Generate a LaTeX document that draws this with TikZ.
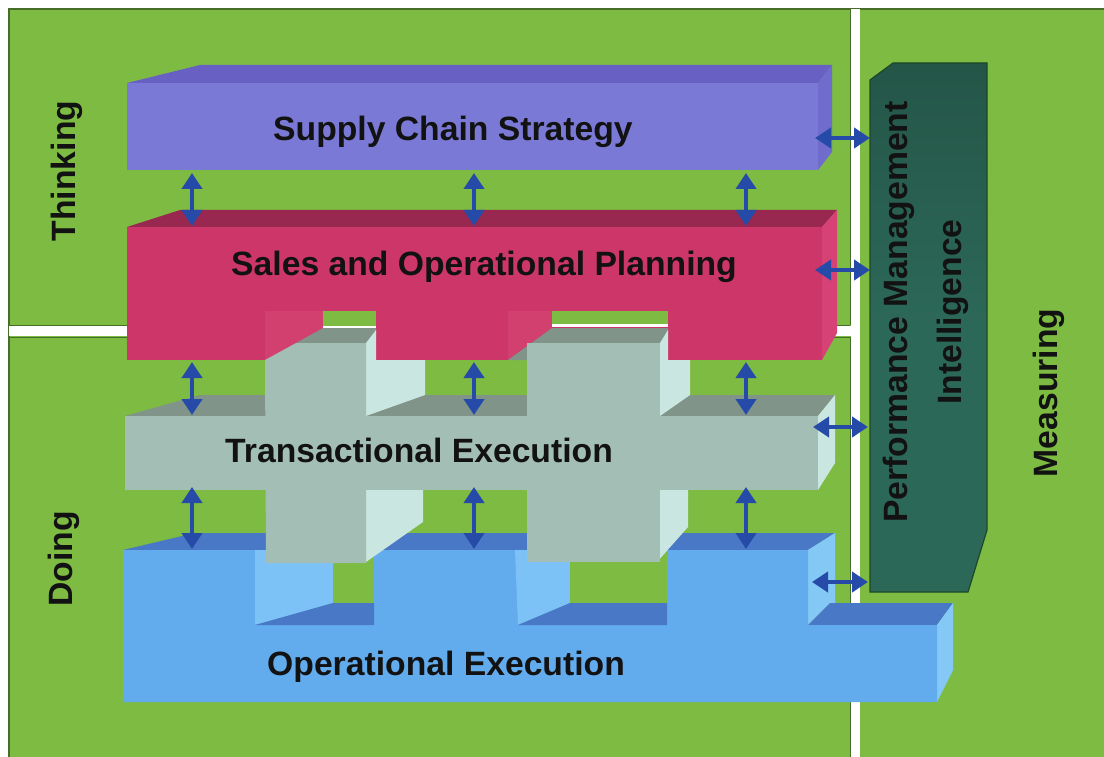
\documentclass[tikz,border=0pt]{standalone}
\usepackage{fontspec}
\setmainfont{Liberation Sans}
\usetikzlibrary{arrows.meta}
\definecolor{bg}{RGB}{125,187,66}
\definecolor{edgegreen}{RGB}{70,110,40}
\definecolor{purF}{RGB}{122,122,214}
\definecolor{purT}{RGB}{104,96,194}
\definecolor{purS}{RGB}{112,108,206}
\definecolor{pinkF}{RGB}{204,54,104}
\definecolor{pinkT}{RGB}{152,40,80}
\definecolor{pinkS}{RGB}{214,66,118}
\definecolor{pinkW}{RGB}{210,64,112}
\definecolor{greyF}{RGB}{163,190,180}
\definecolor{greyT}{RGB}{128,148,138}
\definecolor{greyS}{RGB}{202,230,224}
\definecolor{blueF}{RGB}{98,172,238}
\definecolor{blueT}{RGB}{72,120,198}
\definecolor{blueS}{RGB}{132,200,246}
\definecolor{blueW}{RGB}{124,194,246}
\definecolor{tealF}{RGB}{44,104,88}
\definecolor{tealTop}{RGB}{36,86,72}
\definecolor{tealEdge}{RGB}{28,72,40}
\definecolor{arrowblue}{RGB}{38,74,168}
\definecolor{textdark}{RGB}{18,18,18}
\tikzset{
  lbl/.style={inner sep=0pt, text=textdark, font=\fontsize{33.7}{40}\selectfont\bfseries},
  dblarrow/.style={arrowblue, line width=4pt,
    {Triangle[width=20pt,length=16pt]}-{Triangle[width=20pt,length=16pt]}},
  borderline/.style={edgegreen, line width=0.8pt}
}
\begin{document}
\begin{tikzpicture}[x=1pt,y=-1pt]
\useasboundingbox (0,0) rectangle (1104,757);
% background
\fill[white] (0,0) rectangle (1104,757);
\fill[bg] (9,9) rectangle (1104,757);
\draw[borderline, line width=1.2pt] (9,757) -- (9,9) -- (1104,9);
% white dividing lines
\fill[white] (851,9) rectangle (860,757);
\fill[white] (9,326) rectangle (851,336);
\draw[borderline] (850,9) -- (850,325);
\draw[borderline] (850,337) -- (850,757);
\draw[borderline] (9,325) -- (850,325);
\draw[borderline] (9,337) -- (850,337);

% ---------- Supply Chain Strategy (purple) ----------
\fill[purT] (127,83) -- (200,65) -- (832,65) -- (818,83) -- cycle;
\fill[purS] (818,83) -- (832,65) -- (832,152) -- (818,170) -- cycle;
\fill[purF] (127,83) rectangle (818,170);

% ---------- Sales and Operational Planning (pink) ----------
\fill[pinkT] (127,227) -- (180,210) -- (837,210) -- (822,227) -- cycle;
\fill[pinkS] (822,227) -- (837,210) -- (837,333) -- (822,360) -- cycle;
\fill[pinkF] (127,227) rectangle (822,360);
\fill[pinkW] (265,311) -- (323,311) -- (323,328) -- (265,360) -- cycle;
\fill[pinkW] (508,311) -- (552,311) -- (552,328) -- (508,360) -- cycle;
\fill[bg] (323,311) rectangle (376,326);
\fill[white] (323,326) rectangle (376,329);
\fill[bg] (552,311) rectangle (668,324);
\fill[white] (552,324) rectangle (668,327);

% ---------- Operational Execution (blue) ----------
\fill[blueT] (123,550) -- (195,533) -- (835,533) -- (808,550) -- cycle;
\fill[blueS] (808,550) -- (835,533) -- (835,603) -- (830,603) -- (808,625) -- cycle;
\fill[blueT] (808,625) -- (830,603) -- (953,603) -- (937,625) -- cycle;
\fill[blueS] (937,625) -- (953,603) -- (953,670) -- (937,702) -- cycle;
\fill[blueF] (123,550) -- (808,550) -- (808,625) -- (937,625) -- (937,702) -- (123,702) -- cycle;
% notches in blue
\fill[blueW] (255,550) -- (333,550) -- (333,603) -- (255,625) -- cycle;
\fill[bg] (333,550) rectangle (374,603);
\fill[blueT] (255,625) -- (333,603) -- (374,603) -- (374,625) -- cycle;
\fill[blueW] (515,550) -- (570,550) -- (570,603) -- (518,625) -- cycle;
\fill[bg] (570,550) rectangle (667,603);
\fill[blueT] (518,625) -- (570,603) -- (667,603) -- (667,625) -- cycle;

% ---------- Transactional Execution (grey) ----------
\fill[greyT] (125,416) -- (200,395) -- (835,395) -- (818,416) -- cycle;
% pillar 1
\fill[greyT] (296,343) -- (323,328) -- (376,328) -- (376,340) -- (366,343) -- cycle;
\fill[greyS] (366,343) -- (376,330) -- (376,360) -- (425,360) -- (425,395) -- (366,416) -- cycle;
\fill[greyS] (366,490) -- (423,490) -- (423,522) -- (366,562) -- cycle;
\fill[greyF] (265,360) -- (296,343) -- (366,343) -- (366,563) -- (266,563) -- cycle;
% pillar 2
\fill[greyT] (508,360) -- (552,328) -- (668,328) -- (668,338) -- (660,343) -- (527,343) -- (527,360) -- cycle;
\fill[greyS] (660,343) -- (668,330) -- (668,360) -- (690,360) -- (690,395) -- (660,416) -- cycle;
\fill[greyS] (657,490) -- (688,490) -- (688,527) -- (657,562) -- cycle;
\fill[greyF] (527,343) rectangle (660,562);
% bar
\fill[greyS] (818,416) -- (835,395) -- (835,463) -- (818,490) -- cycle;
\fill[greyF] (125,416) rectangle (818,490);

% ---------- Performance Management Intelligence (teal) ----------
\shade[top color=tealTop, bottom color=tealF, middle color=tealF, draw=tealEdge, line width=1.2pt]
  (870,80) -- (893,63) -- (987,63) -- (987,530) -- (968,592) -- (870,592) -- cycle;

% ---------- labels ----------
\node[lbl, anchor=base west] (scs) at (273,141) {Supply Chain Strategy};
\node[lbl, anchor=base west] (sop) at (231,275) {Sales and Operational Planning};
\node[lbl, anchor=base west] (te) at (225,462) {Transactional Execution};
\node[lbl, anchor=base west] (oe) at (267,675) {Operational Execution};
\node[lbl, anchor=base, rotate=90] (thinking) at (75,171) {Thinking};
\node[lbl, anchor=base, rotate=90] (doing) at (72,559) {Doing};
\node[lbl, anchor=base, rotate=90] (measuring) at (1057,393) {Measuring};
\node[lbl, anchor=base, rotate=90] (pmi1) at (907,312) {Performance Management};
\node[lbl, anchor=base, rotate=90] (pmi2) at (961,312) {Intelligence};

% ---------- arrows ----------
\foreach \xx/\nm in {192/a,474/b,746/c}{
  \coordinate (r1\nm s) at (\xx,173); \coordinate (r1\nm e) at (\xx,226);
  \coordinate (r2\nm s) at (\xx,362); \coordinate (r2\nm e) at (\xx,415);
  \coordinate (r3\nm s) at (\xx,487); \coordinate (r3\nm e) at (\xx,549);
  \draw[dblarrow] (r1\nm s) -- (r1\nm e);
  \draw[dblarrow] (r2\nm s) -- (r2\nm e);
  \draw[dblarrow] (r3\nm s) -- (r3\nm e);
}
\coordinate (h1s) at (815,138); \coordinate (h1e) at (870,138);
\coordinate (h2s) at (815,270); \coordinate (h2e) at (870,270);
\coordinate (h3s) at (813,427); \coordinate (h3e) at (868,427);
\coordinate (h4s) at (812,582); \coordinate (h4e) at (868,582);
\draw[dblarrow] (h1s) -- (h1e);
\draw[dblarrow] (h2s) -- (h2e);
\draw[dblarrow] (h3s) -- (h3e);
\draw[dblarrow] (h4s) -- (h4e);
\end{tikzpicture}
\end{document}
